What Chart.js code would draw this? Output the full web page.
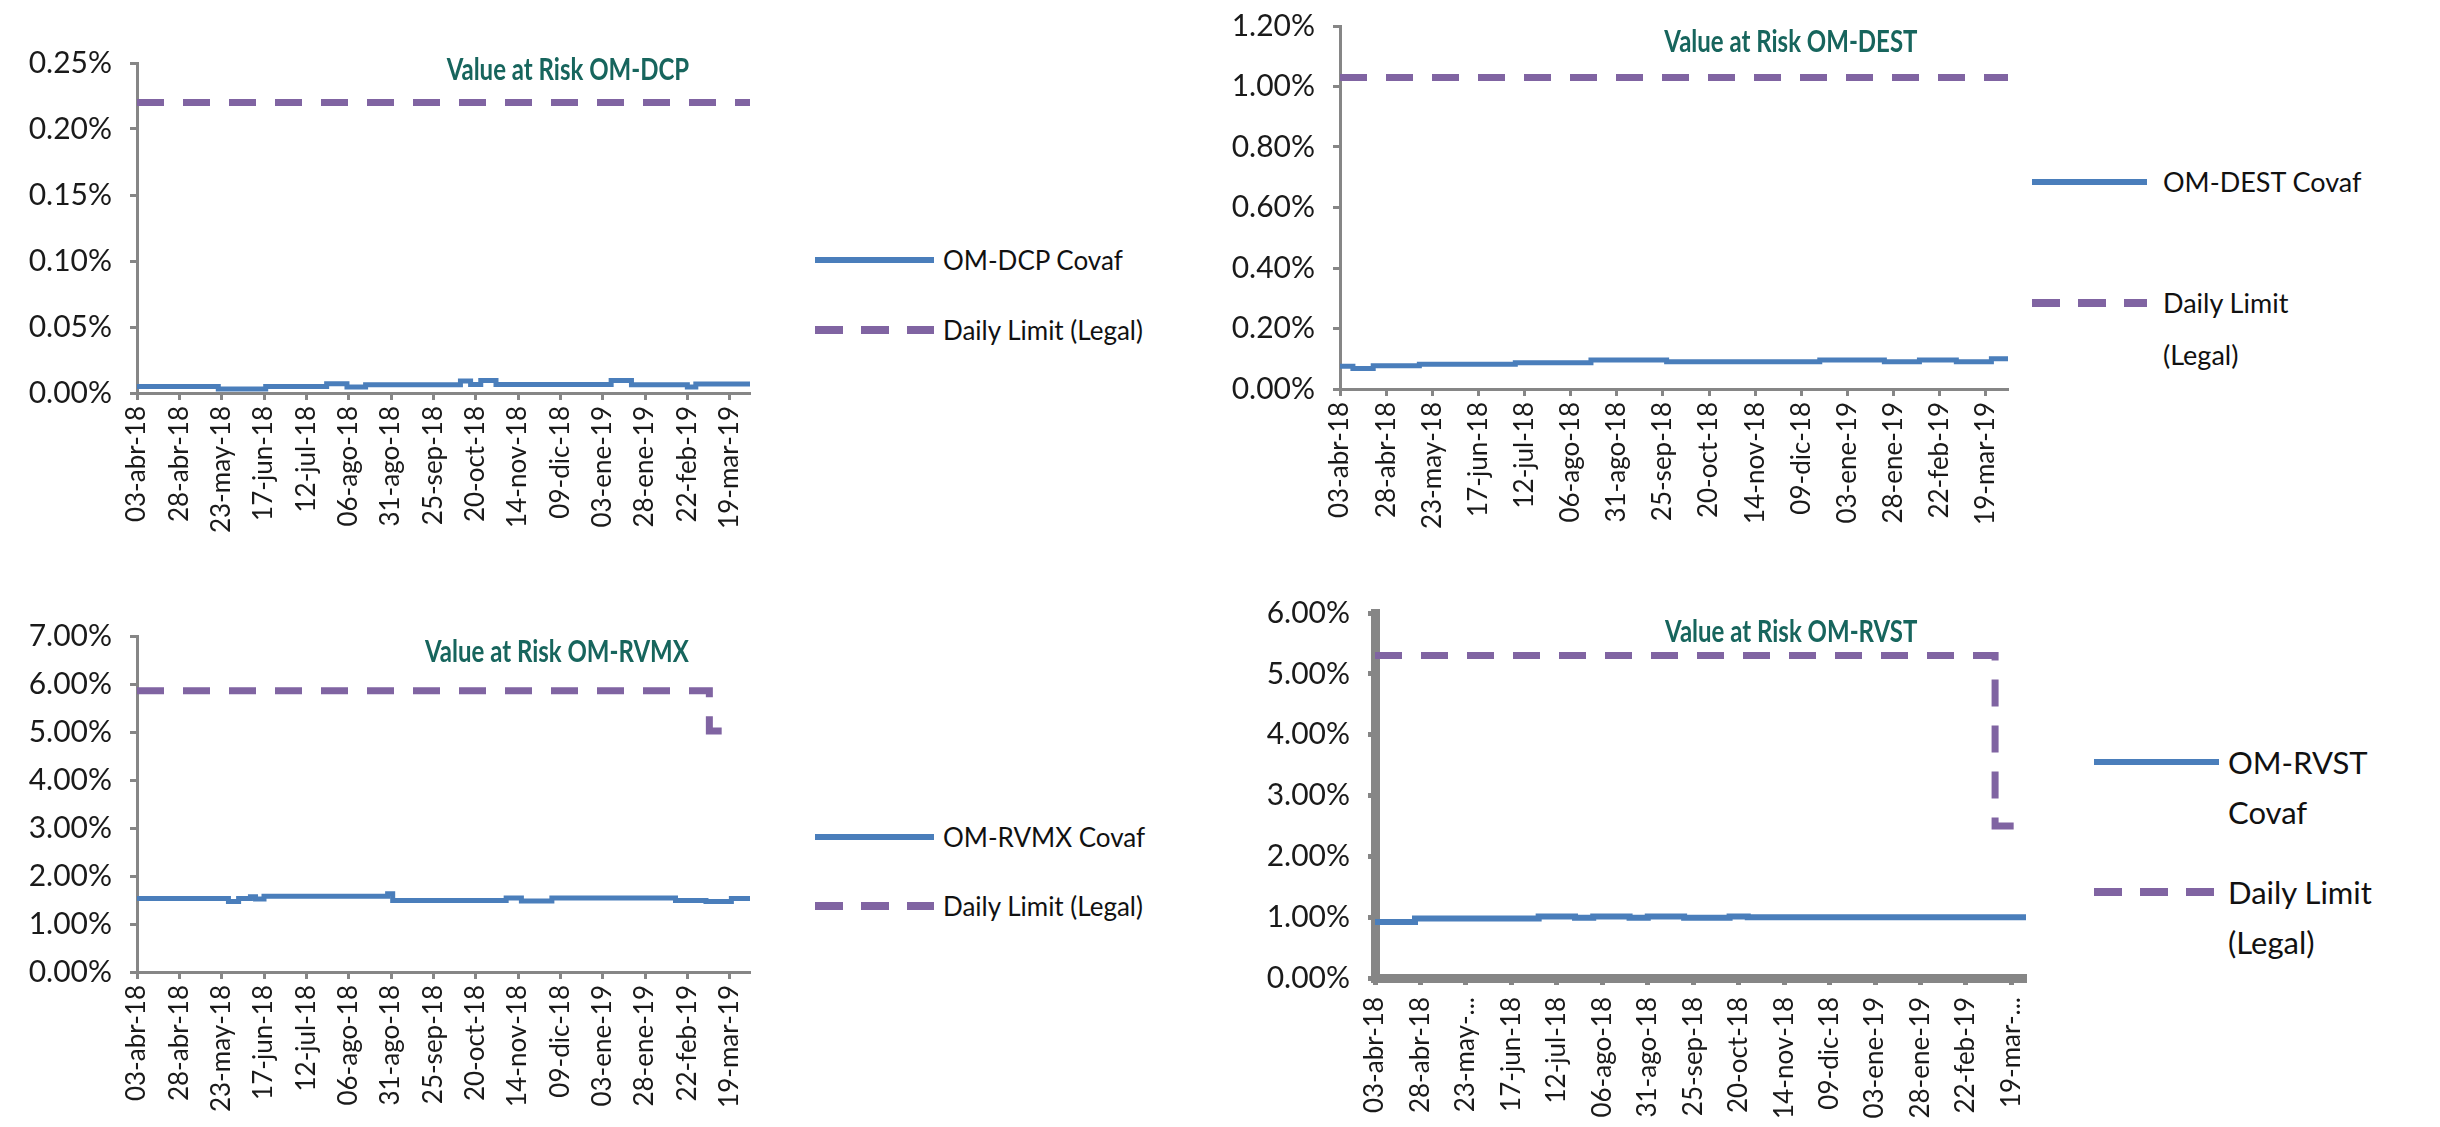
<!DOCTYPE html>
<html>
<head>
<meta charset="utf-8">
<script src="https://cdn.jsdelivr.net/npm/chart.js@4.4.1/dist/chart.umd.min.js"></script>
<style>
  html, body { margin: 0; padding: 0; background: #fff; }
  body { width: 2440px; height: 1127px; position: relative; overflow: hidden; font-family: Lato, 'Liberation Sans', sans-serif; }
  canvas { position: absolute; }
  .title { position: absolute; color: #17655d; font-weight: bold; white-space: nowrap; transform-origin: 100% 50%; }
  .legend { position: absolute; }
  .legend svg { position: absolute; left: 0; }
  .legend .txt { position: absolute; white-space: pre; color: #111; }
</style>
</head>
<body>
<script>
// x axis: day index counted from 03-abr-18
const xTickDays = [0, 25, 50, 75, 100, 125, 150, 175, 200, 225, 250, 275, 300, 325, 350];
const xTickLabels = ['03-abr-18', '28-abr-18', '23-may-18', '17-jun-18', '12-jul-18', '06-ago-18', '31-ago-18',
  '25-sep-18', '20-oct-18', '14-nov-18', '09-dic-18', '03-ene-19', '28-ene-19', '22-feb-19', '19-mar-19'];
const xTickLabelsRvst = ['03-abr-18', '28-abr-18', '23-may-...', '17-jun-18', '12-jul-18', '06-ago-18', '31-ago-18',
  '25-sep-18', '20-oct-18', '14-nov-18', '09-dic-18', '03-ene-19', '28-ene-19', '22-feb-19', '19-mar-...'];

// OM-DCP (values in %)
const dcpYTicks = [0, 0.05, 0.10, 0.15, 0.20, 0.25];
const dcpCovafDays = [0, 48, 76, 112, 124, 135, 191, 197, 203, 212, 280, 292, 325, 330, 362];
const dcpCovafValues = [0.005, 0.003, 0.005, 0.007, 0.0045, 0.0063, 0.009, 0.0065, 0.0095, 0.0065, 0.0095, 0.0063, 0.0045, 0.0068, 0.0068];
const dcpLimitDays = [0, 362];
const dcpLimitValues = [0.22, 0.22];

// OM-DEST
const destYTicks = [0, 0.2, 0.4, 0.6, 0.8, 1.0, 1.2];
const destCovafDays = [0, 7, 18, 43, 95, 136, 177, 260, 295, 314, 334, 353, 362];
const destCovafValues = [0.075, 0.068, 0.077, 0.082, 0.087, 0.096, 0.09, 0.096, 0.09, 0.096, 0.09, 0.1, 0.1];
const destLimitDays = [0, 362];
const destLimitValues = [1.03, 1.03];

// OM-RVMX
const rvmxYTicks = [0, 1, 2, 3, 4, 5, 6, 7];
const rvmxCovafDays = [0, 54, 60, 67, 70, 75, 148, 151, 218, 227, 245, 318, 336, 351, 362];
const rvmxCovafValues = [1.53, 1.47, 1.53, 1.57, 1.52, 1.58, 1.63, 1.49, 1.54, 1.48, 1.54, 1.49, 1.47, 1.53, 1.53];
const rvmxLimitDays = [0, 338, 356];
const rvmxLimitValues = [5.86, 5.02, 5.02];

// OM-RVST
const rvstYTicks = [0, 1, 2, 3, 4, 5, 6];
const rvstCovafDays = [0, 22, 90, 110, 120, 140, 150, 170, 195, 205, 358];
const rvstCovafValues = [0.92, 0.98, 1.01, 0.99, 1.01, 0.99, 1.01, 0.99, 1.01, 1.0, 1.0];
const rvstLimitDays = [0, 341, 354];
const rvstLimitValues = [5.30, 2.50, 2.50];

const FONT = 'Lato, "Liberation Sans", sans-serif';
const BLUE = '#4a7ebb';
const PURPLE = '#8064a2';
const AXIS = '#868686';
const YW = 130, XH = 150, PT = 30, PR = 20;

Chart.defaults.font.family = FONT;

function toPoints(days, values) {
  return days.map((d, i) => ({ x: d, y: values[i] }));
}

function makeChart(spec) {
  const b = spec.box;
  const canvas = document.createElement('canvas');
  canvas.width = b.right - b.left + YW + PR;
  canvas.height = b.bottom - b.top + PT + XH;
  canvas.style.left = (b.left - YW) + 'px';
  canvas.style.top = (b.top - PT) + 'px';
  document.body.appendChild(canvas);

  new Chart(canvas.getContext('2d'), {
    type: 'line',
    data: {
      datasets: [
        {
          label: spec.names[0],
          data: toPoints(spec.covafDays, spec.covafValues),
          borderColor: BLUE,
          borderWidth: spec.covafWidth,
          stepped: true,
          pointRadius: 0
        },
        {
          label: spec.names[1],
          data: toPoints(spec.limitDays, spec.limitValues),
          borderColor: PURPLE,
          borderWidth: 7,
          borderDash: [27, 19],
          stepped: true,
          pointRadius: 0
        }
      ]
    },
    options: {
      responsive: false,
      animation: false,
      devicePixelRatio: 1,
      layout: { padding: { top: PT, right: PR, left: 0, bottom: 0 } },
      plugins: {
        legend: { display: false },
        tooltip: { enabled: false }
      },
      scales: {
        x: {
          type: 'linear',
          min: 0,
          max: spec.xMax,
          afterBuildTicks: s => { s.ticks = xTickDays.map(v => ({ value: v })); },
          afterFit: s => { s.height = XH; s.paddingLeft = 0; s.paddingRight = 0; },
          ticks: {
            autoSkip: false,
            minRotation: 90,
            maxRotation: 90,
            padding: spec.xPad,
            color: '#1a1a1a',
            font: { size: 26 },
            callback: (v, i) => spec.xLabels[i]
          },
          grid: { drawOnChartArea: false, tickLength: 7, tickWidth: Math.min(spec.axisWidth, 5), tickColor: AXIS },
          border: { color: AXIS, width: spec.axisWidth }
        },
        y: {
          min: 0,
          max: spec.yTicks[spec.yTicks.length - 1],
          afterBuildTicks: s => { s.ticks = spec.yTicks.map(v => ({ value: v })); },
          afterFit: s => { s.width = YW; s.paddingTop = 0; s.paddingBottom = 0; },
          ticks: {
            padding: 18,
            color: '#1a1a1a',
            font: { size: 30 },
            callback: v => v.toFixed(2) + '%'
          },
          grid: { drawOnChartArea: false, tickLength: 7, tickWidth: Math.min(spec.axisWidth, 5), tickColor: AXIS },
          border: { color: AXIS, width: spec.axisWidth }
        }
      }
    }
  });

  const t = document.createElement('div');
  t.className = 'title';
  t.textContent = spec.title;
  t.style.right = (2440 - spec.titlePos[0]) + 'px';
  t.style.top = spec.titlePos[1] + 'px';
  t.style.fontSize = '30px';
  t.style.transform = 'translateY(-50%) scaleX(0.8)';
  document.body.appendChild(t);

  const lg = spec.legend;
  spec.names.forEach((name, i) => {
    const item = document.createElement('div');
    item.className = 'legend';
    item.style.left = lg.x + 'px';
    item.style.top = (lg.y[i] - lg.lh / 2) + 'px';
    const dash = i === 1 ? ' stroke-dasharray="28 18"' : '';
    const col = i === 1 ? PURPLE : BLUE;
    const sw = i === 1 ? 8 : 6;
    item.innerHTML =
      '<svg width="' + lg.w + '" height="12" style="top:' + (lg.lh / 2 - 6) + 'px">' +
      '<line x1="0" y1="6" x2="' + lg.w + '" y2="6" stroke="' + col + '" stroke-width="' + sw + '"' + dash + '/></svg>' +
      '<div class="txt" style="left:' + (lg.textX - lg.x) + 'px;font-size:' + lg.size + 'px;line-height:' + lg.lh + 'px"></div>';
    item.querySelector('.txt').textContent = name;
    document.body.appendChild(item);
  });
}

makeChart({
  box: { left: 137, top: 63, right: 750, bottom: 393 },
  xMax: 362, xLabels: xTickLabels, yTicks: dcpYTicks, axisWidth: 3, covafWidth: 5, xPad: 6,
  covafDays: dcpCovafDays, covafValues: dcpCovafValues,
  limitDays: dcpLimitDays, limitValues: dcpLimitValues,
  names: ['OM-DCP Covaf', 'Daily Limit (Legal)'],
  title: 'Value at Risk OM-DCP', titlePos: [689, 68],
  legend: { x: 815, w: 119, textX: 943, y: [260, 330], size: 26, lh: 34 }
});

makeChart({
  box: { left: 1340, top: 26, right: 2008, bottom: 389 },
  xMax: 362, xLabels: xTickLabels, yTicks: destYTicks, axisWidth: 3, covafWidth: 5, xPad: 6,
  covafDays: destCovafDays, covafValues: destCovafValues,
  limitDays: destLimitDays, limitValues: destLimitValues,
  names: ['OM-DEST Covaf', 'Daily Limit\n(Legal)'],
  title: 'Value at Risk OM-DEST', titlePos: [1917, 40],
  legend: { x: 2032, w: 115, textX: 2163, y: [182, 303], size: 27, lh: 52 }
});

makeChart({
  box: { left: 137, top: 636, right: 750, bottom: 972 },
  xMax: 362, xLabels: xTickLabels, yTicks: rvmxYTicks, axisWidth: 3, covafWidth: 5, xPad: 6,
  covafDays: rvmxCovafDays, covafValues: rvmxCovafValues,
  limitDays: rvmxLimitDays, limitValues: rvmxLimitValues,
  names: ['OM-RVMX Covaf', 'Daily Limit (Legal)'],
  title: 'Value at Risk OM-RVMX', titlePos: [689, 650],
  legend: { x: 815, w: 119, textX: 943, y: [837, 906], size: 26, lh: 34 }
});

makeChart({
  box: { left: 1375, top: 613, right: 2026, bottom: 978 },
  xMax: 358, xLabels: xTickLabelsRvst, yTicks: rvstYTicks, axisWidth: 9, covafWidth: 6, xPad: 12,
  covafDays: rvstCovafDays, covafValues: rvstCovafValues,
  limitDays: rvstLimitDays, limitValues: rvstLimitValues,
  names: ['OM-RVST\nCovaf', 'Daily Limit\n(Legal)'],
  title: 'Value at Risk OM-RVST', titlePos: [1917, 630],
  legend: { x: 2094, w: 125, textX: 2228, y: [762, 892], size: 31, lh: 50 }
});
</script>
</body>
</html>
